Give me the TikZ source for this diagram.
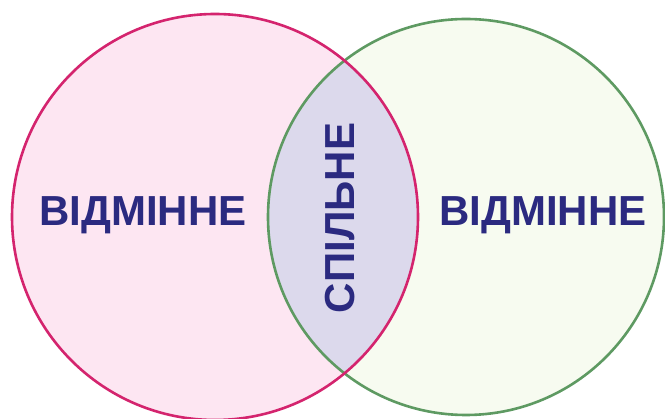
\documentclass[tikz,border=0pt]{standalone}
\usepackage{fontspec}
\setmainfont{Liberation Sans}
\definecolor{pinkline}{HTML}{D4246E}
\definecolor{pinkfill}{HTML}{FDE6F2}
\definecolor{greenline}{HTML}{5E9A62}
\definecolor{greenfill}{HTML}{F7FBF0}
\definecolor{commonfill}{HTML}{DCD9EC}
\definecolor{labelblue}{HTML}{2B2A80}
\tikzset{
  label text/.style={font=\fontsize{42}{42}\selectfont\bfseries, text=labelblue, inner sep=0pt},
}
\begin{document}
\begin{tikzpicture}[x=1pt, y=-1pt, line join=round, line cap=round]
			\useasboundingbox (0,0) rectangle (665,419);
			\coordinate (L) at (215,217); \coordinate (R) at (466,217);
			\fill[pinkfill] (L) circle[radius=203];
			\fill[greenfill] (R) circle[radius=198];
			\begin{scope}
				\clip (L) circle[radius=203];
				\fill[commonfill] (R) circle[radius=198];
			\end{scope}
			\draw[greenline, line width=2.6pt] (R) circle[radius=198];
			\draw[pinkline, line width=2.6pt] (L) circle[radius=203];
			\node[label text] (diffL) at (143,215) {ВІДМІННЕ};
			\node[label text] (diffR) at (543,215) {ВІДМІННЕ};
			\node[label text, rotate=90] (common) at (340,218) {СПІЛЬНЕ};
		\end{tikzpicture}
\end{document}
